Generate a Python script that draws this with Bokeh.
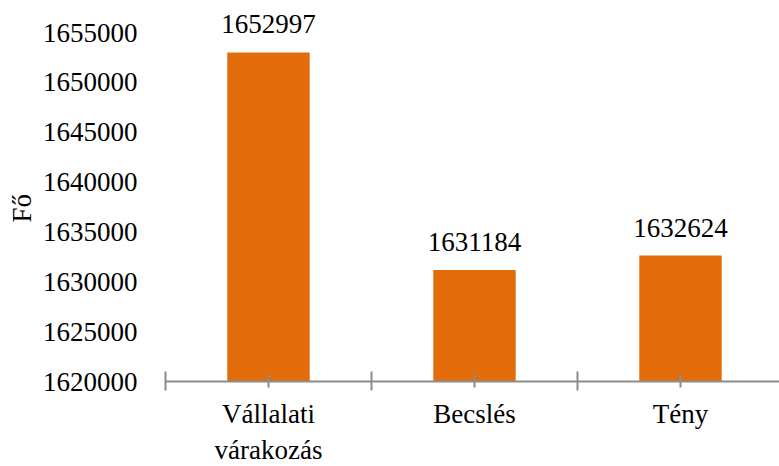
from bokeh.plotting import figure
from bokeh.models import Range1d, FixedTicker, BasicTickFormatter, ColumnDataSource, Title
from bokeh.embed import file_html
from bokeh.resources import INLINE
from bokeh.core.properties import value

categories = ["Vállalati\nvárakozás", "Becslés", "Tény"]
values = [1652997, 1631184, 1632624]
y_ticks = [1620000, 1625000, 1630000, 1635000, 1640000, 1645000, 1650000, 1655000]
y_title = "Fő"

FONT = "Liberation Serif"
BAR = "#E36C0A"
AXIS = "#8C8C8C"

FRAME_H = 379
PX_PER_UNIT = 349 / (y_ticks[-1] - y_ticks[0])
y_end = y_ticks[0] + FRAME_H / PX_PER_UNIT

xs = [i + 0.5 for i in range(len(categories))]
boundaries = [i for i in range(len(categories) + 1)]

src = ColumnDataSource(dict(x=xs, top=values, label=[str(v) for v in values]))

p = figure(frame_width=614, frame_height=FRAME_H, output_backend="svg", toolbar_location=None,
           x_range=Range1d(0, 614 / 206), y_range=Range1d(y_ticks[0], y_end),
           min_border_left=165, min_border_right=0, min_border_top=2, min_border_bottom=76)
p.outline_line_color = None
p.xgrid.grid_line_color = None
p.ygrid.grid_line_color = None
p.background_fill_color = "white"
p.border_fill_color = "white"

p.vbar(x="x", top="top", bottom=y_ticks[0], width=0.4, source=src, fill_color=BAR, line_color=None)
p.text(x="x", y="top", text="label", source=src, text_align="center", text_baseline="alphabetic",
       y_offset=-28, text_font=value(FONT), text_font_size="27px", text_color="black")

xa = p.xaxis[0]
xa.ticker = FixedTicker(ticks=xs, minor_ticks=boundaries)
xa.major_label_overrides = {x: c for x, c in zip(xs, categories)}
xa.axis_line_color = AXIS
xa.axis_line_width = 2
xa.major_tick_line_color = AXIS
xa.major_tick_line_width = 2
xa.major_tick_in = 7
xa.major_tick_out = 6
xa.minor_tick_line_color = AXIS
xa.minor_tick_line_width = 2
xa.minor_tick_in = 10
xa.minor_tick_out = 9
xa.major_label_text_font = FONT
xa.major_label_text_font_size = "27px"
xa.major_label_text_color = "black"
xa.major_label_standoff = 8

ya = p.yaxis[0]
ya.ticker = FixedTicker(ticks=y_ticks)
ya.formatter = BasicTickFormatter(use_scientific=False)
ya.axis_line_color = None
ya.major_tick_line_color = None
ya.minor_tick_line_color = None
ya.major_tick_out = 0
ya.major_tick_in = 0
ya.major_label_standoff = 28
ya.major_label_text_font = FONT
ya.major_label_text_font_size = "27px"
ya.major_label_text_color = "black"

# y axis title, centred on the tick range (not on the taller frame)
p.add_layout(Title(text=y_title, align="left", offset=159, vertical_align="middle", standoff=3,
                   text_font=FONT, text_font_size="27px", text_font_style="normal",
                   text_color="black"), "left")

open("out.html", "w").write(file_html(p, INLINE))
